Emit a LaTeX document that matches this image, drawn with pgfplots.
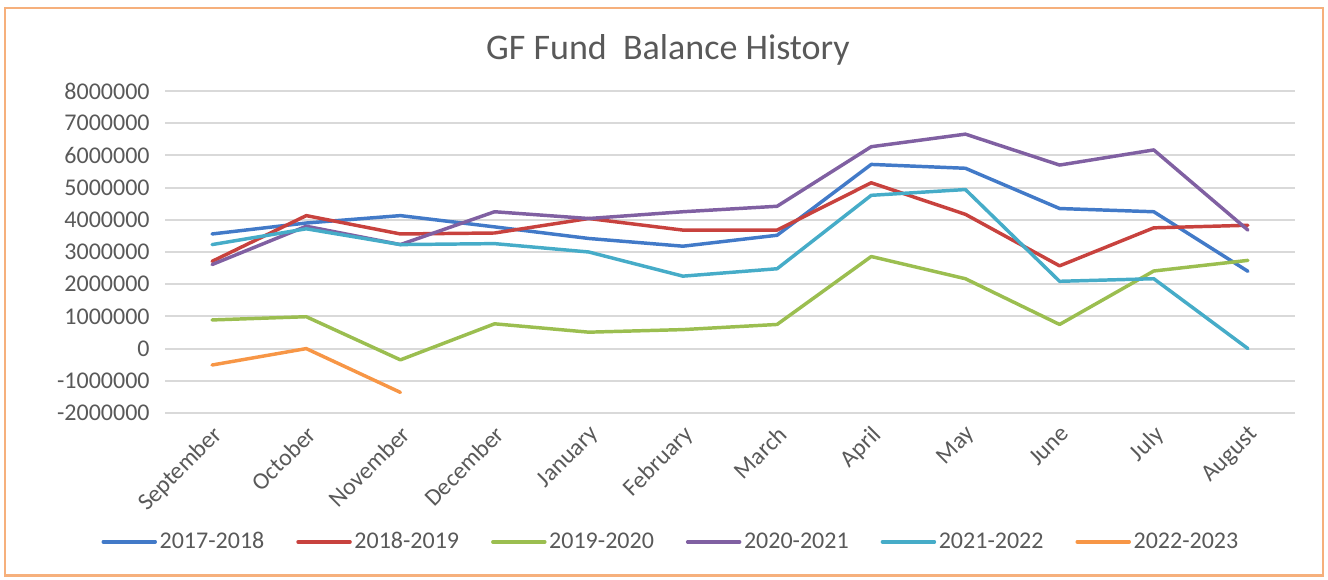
\documentclass[border=0pt]{standalone}
\usepackage{pgfplots}
\pgfplotsset{compat=1.18}
\usepackage{fontspec}
\setmainfont{Carlito}
\definecolor{txt}{RGB}{89,89,89}
\definecolor{gridc}{RGB}{217,217,217}
\definecolor{borderc}{RGB}{246,176,124}
\definecolor{cA}{RGB}{66,122,200}
\definecolor{cB}{RGB}{200,66,62}
\definecolor{cC}{RGB}{155,190,80}
\definecolor{cD}{RGB}{128,96,162}
\definecolor{cE}{RGB}{70,172,200}
\definecolor{cF}{RGB}{247,150,70}
\begin{document}
\begin{tikzpicture}
\path[use as bounding box] (0,0) rectangle (996pt,434.25pt);
\draw[borderc, line width=2.2pt] (3.75pt,2.5pt) rectangle (992.25pt,428.25pt);
\begin{axis}[
  at={(123.75pt,124.5pt)}, anchor=south west,
  scale only axis, width=847.5pt, height=241.5pt,
  xmin=-0.5, xmax=11.5, ymin=-2000000, ymax=8000000,
  scaled y ticks=false,
  xtick={0,...,11},
  xticklabels={September,October,November,December,January,February,March,April,May,June,July,August},
  ytick={-2000000,-1000000,0,1000000,2000000,3000000,4000000,5000000,6000000,7000000,8000000},
  yticklabels={-2000000,-1000000,0,1000000,2000000,3000000,4000000,5000000,6000000,7000000,8000000},
  ymajorgrids, major grid style={draw=gridc, line width=1.6pt},
  axis line style={draw=none},
  major tick length=0pt,
  tick label style={font=\fontsize{18}{21}\selectfont, text=txt},
  y tick label style={xshift=-8pt},
  x tick label style={yshift=-3.5pt, xshift=-0.5pt, rotate=45, anchor=north east},
  legend columns=6,
  legend style={at={(0.448,-0.40)}, anchor=center, draw=none, fill=none,
    font=\fontsize{18}{21}\selectfont, text=txt,
    /tikz/every even column/.append style={column sep=22pt}},
  legend image code/.code={\draw[#1] (0pt,0pt) -- (39pt,0pt);},
  every axis plot/.append style={line width=2.6pt, line join=round, line cap=round},
]
\addplot[cA] coordinates {(0,3560000)(1,3900000)(2,4130000)(3,3780000)(4,3420000)(5,3180000)(6,3520000)(7,5720000)(8,5600000)(9,4350000)(10,4250000)(11,2400000)};
\addlegendentry{2017-2018}
\addplot[cB] coordinates {(0,2710000)(1,4130000)(2,3560000)(3,3590000)(4,4040000)(5,3680000)(6,3680000)(7,5150000)(8,4170000)(9,2570000)(10,3750000)(11,3830000)};
\addlegendentry{2018-2019}
\addplot[cC] coordinates {(0,890000)(1,990000)(2,-350000)(3,770000)(4,510000)(5,590000)(6,750000)(7,2860000)(8,2170000)(9,750000)(10,2410000)(11,2740000)};
\addlegendentry{2019-2020}
\addplot[cD] coordinates {(0,2610000)(1,3800000)(2,3230000)(3,4250000)(4,4040000)(5,4250000)(6,4420000)(7,6270000)(8,6660000)(9,5700000)(10,6170000)(11,3680000)};
\addlegendentry{2020-2021}
\addplot[cE] coordinates {(0,3230000)(1,3720000)(2,3230000)(3,3260000)(4,3000000)(5,2250000)(6,2480000)(7,4760000)(8,4940000)(9,2090000)(10,2170000)(11,0)};
\addlegendentry{2021-2022}
\addplot[cF] coordinates {(0,-510000)(1,0)(2,-1360000)};
\addlegendentry{2022-2023}
\end{axis}
\node[text=txt, font=\fontsize{27}{32}\selectfont] at (501pt,396.75pt) {GF Fund\ \ Balance History};
\end{tikzpicture}
\end{document}
